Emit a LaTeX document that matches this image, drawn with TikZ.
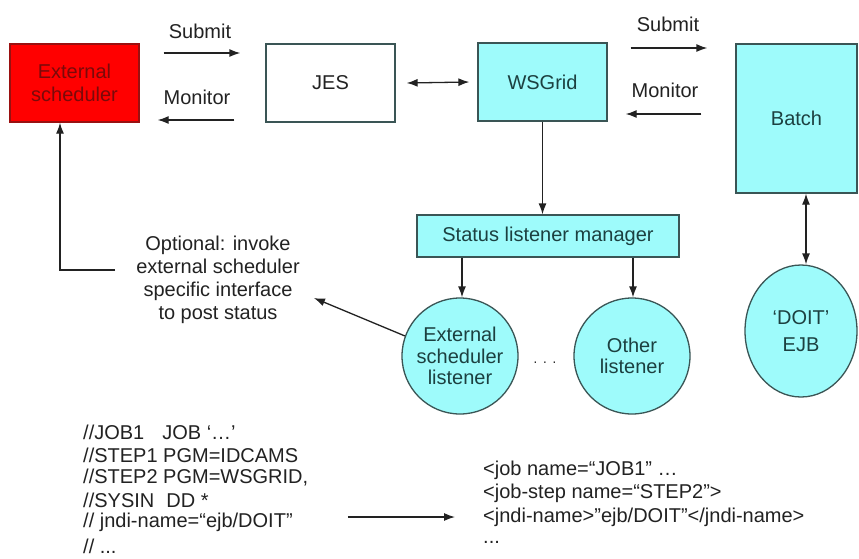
\documentclass[tikz,border=0pt]{standalone}
\usepackage{fontspec}
\setmainfont{Liberation Sans}
\usetikzlibrary{arrows.meta,calc,shapes.geometric}
\definecolor{cyanfill}{HTML}{9EFBFB}
\definecolor{boxline}{HTML}{3A5555}
\definecolor{tealtext}{HTML}{1C4040}
\definecolor{redfill}{HTML}{FF0000}
\definecolor{redline}{HTML}{9A1010}
\definecolor{redtext}{HTML}{7A0A0A}
\definecolor{ink}{HTML}{222222}
\begin{document}
\begin{tikzpicture}[x=1pt,y=-1pt,
  every node/.style={font=\fontsize{20}{23}\selectfont, text=ink},
  boxbase/.style={draw, line width=1.3pt, inner sep=0pt, align=center, minimum width=129, minimum height=78},
  cbox/.style={boxbase, draw=boxline, fill=cyanfill, text=tealtext},
  wbox/.style={boxbase, draw=boxline, fill=white, text=ink},
  rbox/.style={boxbase, draw=redline, fill=redfill, text=redtext},
  circ/.style={circle, draw=boxline, fill=cyanfill, text=tealtext, line width=1.3pt, inner sep=0pt, align=center, minimum size=116, font=\fontsize{20}{21.5}\selectfont},
  arr/.style={draw=ink, line width=1.3pt, -{Latex[length=11pt,width=8pt]}},
  darr/.style={draw=ink, line width=1.3pt, {Latex[length=11pt,width=8pt]}-{Latex[length=11pt,width=8pt]}},
  txt/.style={anchor=west, inner sep=0pt}
]
\useasboundingbox (0,0) rectangle (859,558);
\fill[white] (0,0) rectangle (859,558);

% main boxes
\node[rbox] (ext) at (74.5,83) {External\\scheduler};
\node[wbox] (jes) at (330.5,83) {JES};
\node[cbox] (wsg) at (542.5,82) {WSGrid};
\node[cbox, minimum width=121, minimum height=149] (batch) at (796.5,118.5) {Batch};
\node[cbox, minimum width=262, minimum height=42] (slm) at (548,236) {Status listener manager};
\node[circ] (el) at (460,356) {External\\scheduler\\listener};
\node[circ] (ol) at (632,356) {Other\\listener};
\node[cbox, ellipse, minimum width=112, minimum height=132, font=\fontsize{20}{27}\selectfont] (doit) at (801,331) {‘DOIT’\\EJB};

% labels
\node (sub1) at (200,31) {Submit};
\node (mon1) at (197,97) {Monitor};
\node (sub2) at (668,24) {Submit};
\node (mon2) at (665,90) {Monitor};
\node[align=center, inner sep=0pt] (opt) at (218,280) {Optional: invoke\\external scheduler\\specific interface\\to post status};
\node[inner sep=0pt, font=\fontsize{14}{14}\selectfont] (dots) at (545,364) {·\hspace{0.35em}·\hspace{0.35em}·};

% connectors
\draw[arr] ($(ext.east)+(24,-30)$) -- ($(jes.west)+(-25,-30)$);
\draw[arr] ($(jes.west)+(-31,37)$) -- ($(ext.east)+(18,37)$);
\draw[darr] ($(jes.east)+(11,0)$) -- ($(wsg.west)+(-8,0)$);
\draw[arr] ($(wsg.east)+(23,-34)$) -- ($(batch.west |- wsg.east)+(-28,-34)$);
\draw[arr] ($(batch.west |- wsg.east)+(-34,32)$) -- ($(wsg.east)+(18,32)$);
\draw[arr] (wsg.south) -- (wsg.south |- slm.north);
\draw[arr] ($(el.north |- slm.south)+(2,0)$) -- ($(el.north)+(2,0)$);
\draw[arr] ($(ol.north |- slm.south)+(1,0)$) -- ($(ol.north)+(1,0)$);
\draw[darr] ($(doit.north |- batch.south)+(5,0)$) -- ($(doit.north)+(5,0)$);
\draw[arr] (el.160) -- ($(opt.east)+(14,18)$);
\draw[arr] ($(opt.west)+(-21,-10)$) -| ($(ext.south)+(-14.5,0)$);

% JCL
\node[txt] (j1) at (83,432) {//JOB1\hspace{0.9em}JOB ‘…’};
\node[txt] (j2) at (83,455) {//STEP1 PGM=IDCAMS};
\node[txt] (j3) at (83,477.5) {//STEP2 PGM=WSGRID,};
\node[txt] (j4) at (83,500) {//SYSIN\hspace{0.6em}DD *};
\node[txt] (j5) at (83,522) {// jndi-name=“ejb/DOIT”};
\node[txt] (j6) at (83,546) {// ...};

% XML
\node[txt] (x1) at (483,470) {<job name=“JOB1” …};
\node[txt] (x2) at (483,493) {<job-step name=“STEP2”>};
\node[txt] (x3) at (483,517) {<jndi-name>”ejb/DOIT”</jndi-name>};
\node[txt] (x4) at (483,542) {...};

\draw[arr] ($(j5.east |- x3.west)+(55,0)$) -- ($(x3.west)+(-28,0)$);
\end{tikzpicture}
\end{document}
